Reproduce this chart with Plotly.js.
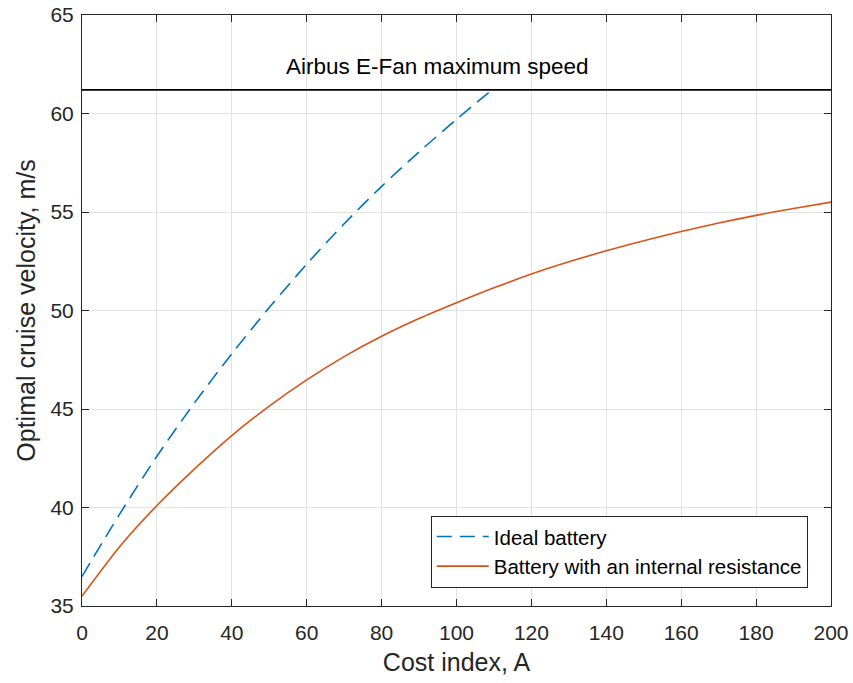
<!DOCTYPE html>
<html>
<head>
<meta charset="utf-8">
<script src="https://cdn.plot.ly/plotly-3.0.1.min.js"></script>
<style>html,body{margin:0;padding:0;background:#fff;}#chart{width:853px;height:683px;}</style>
</head>
<body>
<div id="chart"></div>
<script>
// Cost index values and optimal cruise velocities (m/s)
const idealX = [0, 10, 20, 30, 40, 50, 60, 70, 80, 90, 100, 109.5];
const idealY = [36.5, 39.65, 42.6, 45.3, 47.8, 50.15, 52.35, 54.4, 56.3, 58.05, 59.7, 61.2];
const resistX = [0, 10, 20, 30, 40, 50, 60, 70, 80, 90, 100, 110, 120, 130, 140, 150, 160, 170, 180, 190, 200];
const resistY = [35.5, 38.0, 40.1, 41.95, 43.65, 45.15, 46.48, 47.66, 48.69, 49.59, 50.39, 51.15, 51.85, 52.47, 53.03, 53.54, 54.01, 54.44, 54.83, 55.18, 55.5];
const maxSpeed = 61.2;
const xTicks = [0, 20, 40, 60, 80, 100, 120, 140, 160, 180, 200];
const yTicks = [35, 40, 45, 50, 55, 60, 65];
const seriesNames = ['Ideal battery', 'Battery with an internal resistance'];
const annotationText = 'Airbus E-Fan maximum speed';

const fontFam = 'Liberation Sans, Arial, Helvetica, sans-serif';
const ink = '#262626';

const traces = [
  {x: idealX, y: idealY, name: seriesNames[0], type: 'scatter', mode: 'lines',
   line: {color: '#0072BD', width: 1.6, dash: '15px,8px', shape: 'spline', smoothing: 0.8}},
  {x: resistX, y: resistY, name: seriesNames[1], type: 'scatter', mode: 'lines',
   line: {color: '#D95319', width: 1.6, shape: 'spline', smoothing: 0.8}}
];

const axisCommon = {
  showline: true, linecolor: ink, linewidth: 1, mirror: 'ticks',
  ticks: 'inside', ticklen: 7, tickwidth: 1, tickcolor: ink,
  showgrid: true, gridcolor: '#e3e3e3', gridwidth: 1, zeroline: false,
  tickfont: {family: fontFam, size: 21, color: ink}
};

const layout = {
  width: 853, height: 683,
  margin: {l: 82, r: 22, t: 15, b: 77},
  paper_bgcolor: '#ffffff', plot_bgcolor: '#ffffff',
  font: {family: fontFam, color: ink},
  showlegend: true,
  legend: {x: 0.969, y: 0.031, xanchor: 'right', yanchor: 'bottom',
           bgcolor: '#ffffff', bordercolor: ink, borderwidth: 1, itemwidth: 52,
           font: {family: fontFam, size: 20.5, color: '#000'}},
  xaxis: Object.assign({}, axisCommon, {
    range: [0, 200], tickvals: xTicks, ticktext: xTicks.map(String),
    ticklabelstandoff: 8,
    title: {text: 'Cost index, A', font: {family: fontFam, size: 25, color: ink}, standoff: 10}
  }),
  yaxis: Object.assign({}, axisCommon, {
    range: [35, 65], tickvals: yTicks, ticktext: yTicks.map(String),
    ticklabelstandoff: 3,
    title: {text: 'Optimal cruise velocity, m/s', font: {family: fontFam, size: 25, color: ink}, standoff: 7}
  }),
  shapes: [{type: 'line', xref: 'paper', x0: 0, x1: 1, yref: 'y', y0: maxSpeed, y1: maxSpeed,
            line: {color: '#000', width: 1.6}}],
  annotations: [{x: 95, y: 62.4, xref: 'x', yref: 'y', text: annotationText, showarrow: false,
                 font: {family: fontFam, size: 22.5, color: '#000'}}]
};

Plotly.newPlot('chart', traces, layout, {displayModeBar: false, staticPlot: true});
</script>
</body>
</html>
